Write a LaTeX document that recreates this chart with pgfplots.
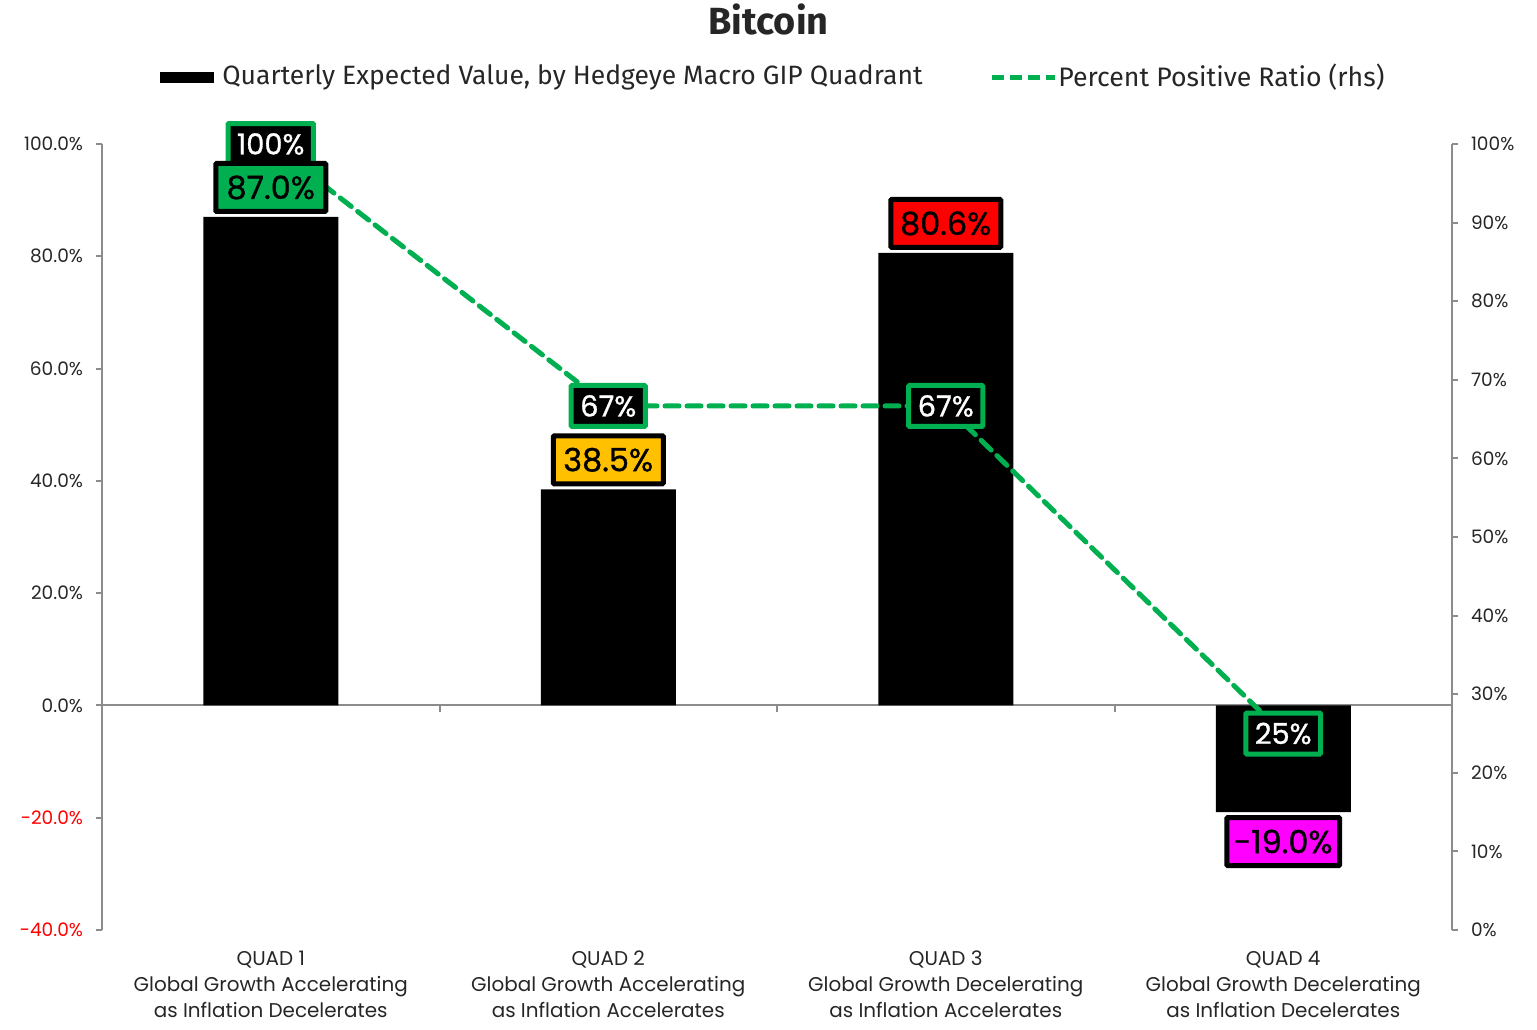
\documentclass[border=0pt]{standalone}
\usepackage{fontspec}
\setmainfont{Poppins}
\newfontfamily\firafont{Fira Sans}
\newfontfamily\lblfont{Poppins}[FakeBold=1]
\usepackage{pgfplots}
\pgfplotsset{compat=1.18}
\definecolor{ggreen}{HTML}{00B050}
\definecolor{gorange}{HTML}{FFC000}
\definecolor{gred}{HTML}{FF0000}
\definecolor{gmag}{HTML}{FF00FF}
\definecolor{axgray}{HTML}{8C8C8C}
\definecolor{txt}{HTML}{262626}
\begin{document}
\begin{tikzpicture}
\path[use as bounding box] (0,0) rectangle (768.5bp,-515bp);
\pgfplotsset{base/.style={scale only axis, width=675bp, height=393bp,
  at={(51bp,-465bp)}, anchor=south west, xmin=-0.5, xmax=3.5, clip=false,
  /pgf/number format/assume math mode=true}}
\pgfplotsset{barlbl/.style={ybar, bar shift=0pt, bar width=0.4, draw=none, fill=none,
  nodes near coords={\pgfmathprintnumber[fixed,fixed zerofill,precision=1,assume math mode=true]{\pgfplotspointmeta}\%},
  nodes near coords style={draw=black, line width=2.5bp, text=black, rounded corners=0.5bp,
    font=\lblfont\fontsize{16}{16}\selectfont, inner xsep=3.5bp, inner ysep=0pt, minimum height=24bp, minimum width=55bp}}}
% ---- bars, left axis
\begin{axis}[base, ymin=-40, ymax=100,
  axis y line*=left, axis x line*=bottom,
  x axis line style={draw=none}, xtick={0,1,2,3}, xtick style={draw=none},
  xticklabels={{QUAD 1\\Global Growth Accelerating\\as Inflation Decelerates},
               {QUAD 2\\Global Growth Accelerating\\as Inflation Accelerates},
               {QUAD 3\\Global Growth Decelerating\\as Inflation Accelerates},
               {QUAD 4\\Global Growth Decelerating\\as Inflation Decelerates}},
  xticklabel style={align=center, font=\fontsize{10}{13}\selectfont, text=txt, anchor=north, yshift=-4bp},
  ytick={-40,-20,0,20,40,60,80,100},
  yticklabels={\textcolor{gred}{-40.0\%},\textcolor{gred}{-20.0\%},0.0\%,20.0\%,40.0\%,60.0\%,80.0\%,100.0\%},
  yticklabel style={font=\fontsize{9.3}{10}\selectfont, text=txt, xshift=-3bp},
  y axis line style={axgray, line width=1bp, -},
  ytick style={axgray, line width=1bp}, tick align=outside, major tick length=3bp,
]
\draw[axgray, line width=1bp] (axis cs:-0.5,0) -- (axis cs:3.5,0);
\draw[axgray, line width=1bp] (axis cs:0.5,0) -- ([yshift=-3.5bp]axis cs:0.5,0);
\draw[axgray, line width=1bp] (axis cs:1.5,0) -- ([yshift=-3.5bp]axis cs:1.5,0);
\draw[axgray, line width=1bp] (axis cs:2.5,0) -- ([yshift=-3.5bp]axis cs:2.5,0);
\addplot[ybar, bar width=0.4, fill=black, draw=none] coordinates {(0,87.0) (1,38.5) (2,80.6) (3,-19.0)};
\end{axis}
% ---- line, right axis
\begin{axis}[base, ymin=0, ymax=100,
  axis y line*=right, axis x line=none,
  ytick={0,10,...,100},
  yticklabels={0\%,10\%,20\%,30\%,40\%,50\%,60\%,70\%,80\%,90\%,100\%},
  yticklabel style={font=\fontsize{9.3}{10}\selectfont, text=txt, xshift=3bp},
  y axis line style={axgray, line width=1bp, -},
  ytick style={axgray, line width=1bp}, tick align=outside, major tick length=3bp,
]
\addplot[ggreen, line width=2.5bp, dash pattern=on 7bp off 4bp, line cap=round,
  nodes near coords={\pgfmathprintnumber[fixed,precision=0,assume math mode=true]{\pgfplotspointmeta}\%},
  nodes near coords style={anchor=center, fill=black, draw=ggreen, line width=2.5bp, text=white,
    rounded corners=0.5bp, font=\lblfont\fontsize{14.5}{14.5}\selectfont, inner xsep=4.5bp, inner ysep=0pt,
    minimum height=20.5bp, solid}]
  coordinates {(0,100) (1,66.67) (2,66.67) (3,25)};
\end{axis}
% ---- bar labels on top
\begin{axis}[base, ymin=-40, ymax=100, hide axis]
\addplot[barlbl, nodes near coords style={fill=ggreen, anchor=south, yshift=1.5bp}] coordinates {(0,87.0)};
\addplot[barlbl, nodes near coords style={fill=gorange, anchor=south, yshift=1.5bp}] coordinates {(1,38.5)};
\addplot[barlbl, nodes near coords style={fill=gred, anchor=south, yshift=1.5bp}] coordinates {(2,80.6)};
\addplot[barlbl, nodes near coords style={fill=gmag, anchor=north, yshift=-1.5bp}] coordinates {(3,-19.0)};
\end{axis}
% ---- title and legend
\node[font=\firafont\bfseries\fontsize{19}{19}\selectfont, text=txt] at (384.25bp,-9.5bp) {Bitcoin};
\fill[black] (80bp,-35.8bp) rectangle (107bp,-41.5bp);
\node[anchor=west, font=\firafont\fontsize{13.3}{14}\selectfont, text=txt, inner sep=0pt] at (111bp,-38.5bp) {Quarterly Expected Value, by Hedgeye Macro GIP Quadrant};
\draw[ggreen, line width=2.5bp, dash pattern=on 6bp off 3bp] (496bp,-38.5bp) -- (527.5bp,-38.5bp);
\node[anchor=west, font=\firafont\fontsize{13.4}{14}\selectfont, text=txt, inner sep=0pt] at (529bp,-38.5bp) {Percent Positive Ratio (rhs)};
\end{tikzpicture}
\end{document}
